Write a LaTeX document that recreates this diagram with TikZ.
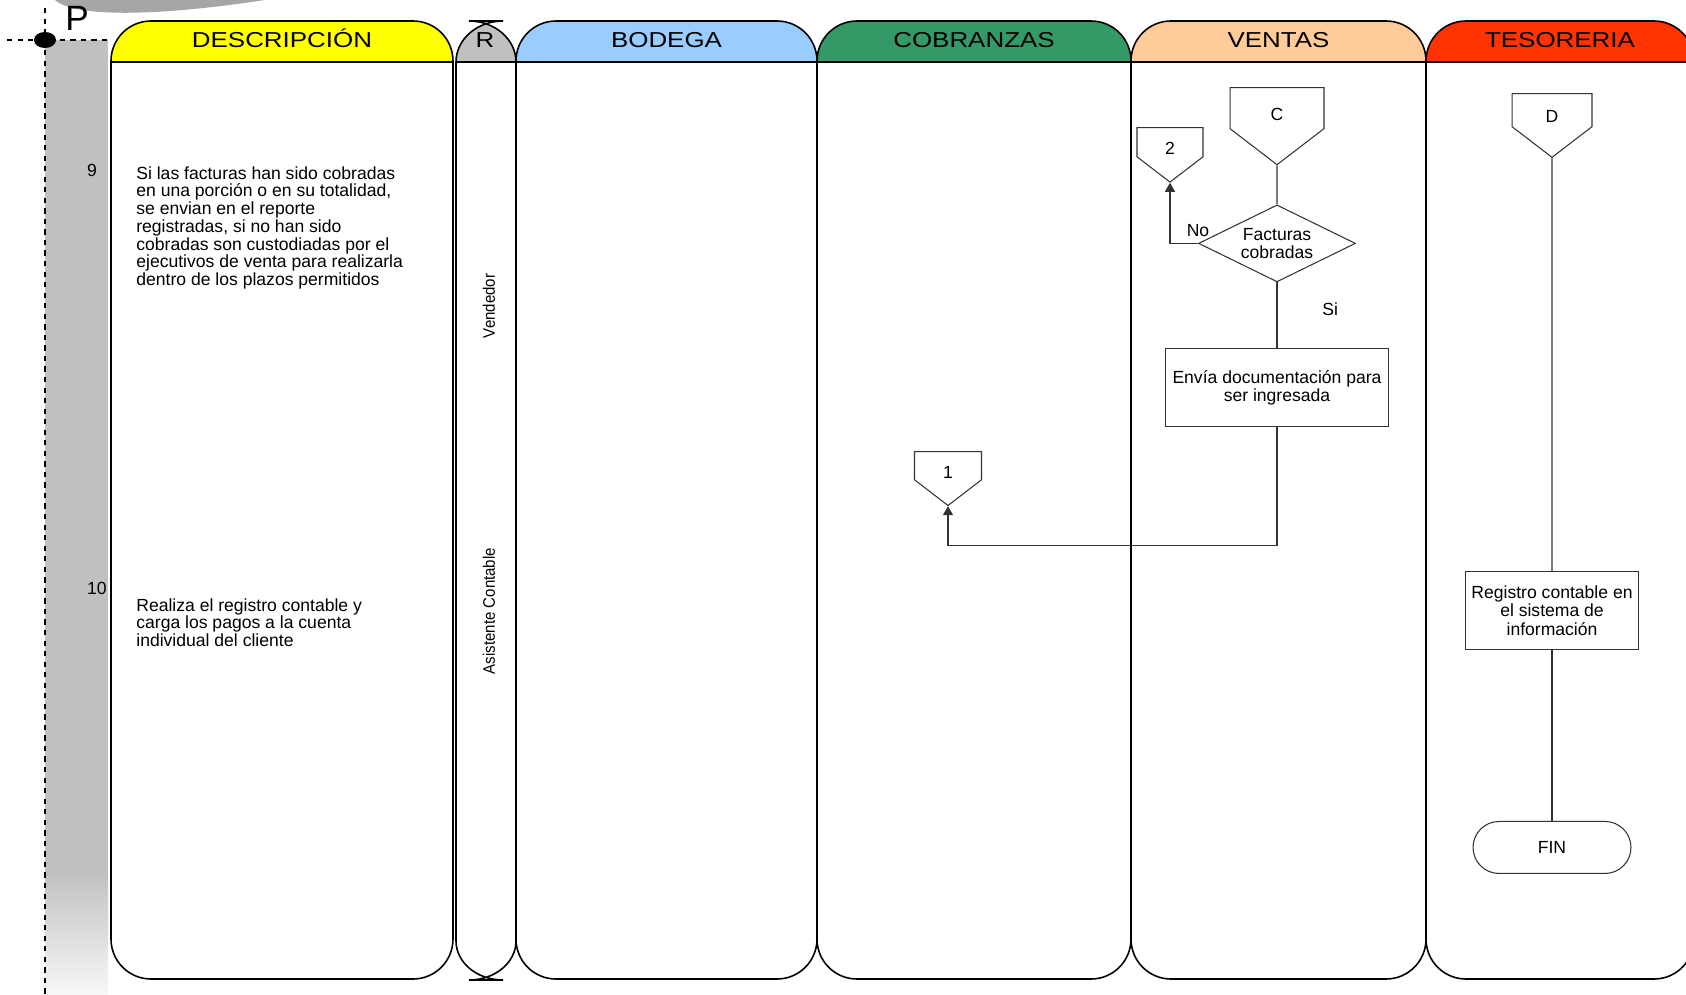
\documentclass[tikz,border=0pt]{standalone}
\usepackage{fontspec}
\setmainfont{Liberation Sans}
\newfontfamily\headfont{Liberation Sans}[FakeStretch=1.2]
\newfontfamily\respfont{Liberation Sans}[FakeStretch=0.9]
\usetikzlibrary{arrows.meta,shapes.geometric,shapes.symbols,positioning}

\definecolor{descyellow}{HTML}{FFFF00}
\definecolor{respgray}{HTML}{C0C0C0}
\definecolor{bodblue}{HTML}{99CCFF}
\definecolor{cobgreen}{HTML}{339966}
\definecolor{venorange}{HTML}{FFCC99}
\definecolor{tesred}{HTML}{FF3300}

% swim lane: left x, right x, colour, title
\newcommand{\swimlane}[4]{%
  \begin{scope}
    \clip (#1,0) rectangle (#2,62);
    \fill[#3, rounded corners=0.8cm] (#1,21) rectangle (#2,979);
  \end{scope}
  \draw[lane] (#1,21) rectangle (#2,979);
  \draw[line width=0.9pt] (#1,62) -- (#2,62);
  \node[header] at ({(#1+#2)/2},47.5) {#4};
}

\begin{document}
\begin{tikzpicture}[x=0.02cm,y=-0.02cm,
  >={Triangle[width=0.2cm,length=0.18cm]},
  lane/.style={line width=0.9pt,rounded corners=0.8cm},
  header/.style={anchor=base,inner sep=0pt,font=\headfont\fontsize{12.3}{14}\selectfont},
  desc/.style={anchor=north west,inner sep=0pt,align=left,font=\fontsize{10}{10.1}\selectfont},
  resp/.style={rotate=90,inner sep=0pt,font=\respfont\fontsize{9.5}{10}\selectfont},
  offpage/.style={shape=signal,signal to=south,signal from=nowhere,signal pointer angle=105,
    draw=black!80,line width=0.6pt,inner sep=0pt,anchor=north,text height=0.5cm,text depth=0pt,
    font=\fontsize{10}{12}\selectfont},
  decision/.style={diamond,draw=black!80,line width=0.6pt,aspect=2,inner sep=0pt,
    minimum width=3.14cm,minimum height=1.54cm,align=center,font=\fontsize{10}{10.6}\selectfont},
  process/.style={rectangle,draw=black!80,line width=0.6pt,minimum height=1.56cm,
    align=center,font=\fontsize{10}{10.6}\selectfont},
  terminal/.style={rectangle,draw=black!80,line width=0.6pt,rounded corners=0.52cm,
    minimum width=3.16cm,minimum height=1.04cm,font=\fontsize{10}{12}\selectfont},
  flow/.style={draw=black!80,line width=0.6pt}]
  \useasboundingbox (0,0) rectangle (1686,994);
  \clip (0,0) rectangle (1686,994);

  % Step column
  \fill[black!35] (55,0) .. controls (75,18) and (160,16) .. (265,0) -- cycle;
  \fill[respgray] (45,40) rectangle (108,870);
  \shade[top color=respgray,bottom color=black!3] (45,870) rectangle (108,994);
  \draw[dashed,line width=0.6pt] (45,8) -- (45,994);
  \draw[dashed,line width=0.6pt] (7,40) -- (108,40);
  \fill (45,40) ellipse[x radius=11,y radius=8];
  \node[inner sep=0pt,font=\fontsize{20}{20}\selectfont] (P) at (77,18) {P};
  \node[inner sep=0pt,font=\fontsize{10}{12}\selectfont] (step 9)  at (92,170) {9};
  \node[inner sep=0pt,font=\fontsize{10}{12}\selectfont] (step 10) at (97,588) {10};

  % Lanes
  \swimlane{111}{453}{descyellow}{DESCRIPCIÓN}
  \swimlane{516}{817}{bodblue}{BODEGA}
  \swimlane{817}{1131}{cobgreen}{COBRANZAS}
  \swimlane{1131}{1426}{venorange}{VENTAS}
  \swimlane{1426}{1694}{tesred}{TESORERIA}
  % Responsible lane (narrow)
  \begin{scope}
    \clip (440,0) rectangle (530,62);
    \fill[respgray] (456,62) .. controls (456,39.4) and (477,21) .. (503,21) -- (469,21)
      .. controls (495,21) and (516,39.4) .. (516,62) -- cycle;
  \end{scope}
  \draw[line width=0.9pt] (456,62) .. controls (456,39.4) and (477,21) .. (503,21) -- (469,21)
    .. controls (495,21) and (516,39.4) .. (516,62) -- (516,941)
    .. controls (516,962.5) and (495,980) .. (469,980) -- (503,980)
    .. controls (477,980) and (456,962.5) .. (456,941) -- cycle;
  \draw[line width=0.9pt] (456,62) -- (516,62);
  \node[header] at (485,47.5) {R};

  % Descriptions
  \node[desc] (desc 9) at (136,166) {Si las facturas han sido cobradas\\en una porción o en su totalidad,\\se envian en el reporte\\registradas, si no han sido\\cobradas son custodiadas por el\\ejecutivos de venta para realizarla\\dentro de los plazos permitidos};
  \node[desc] (desc 10) at (136,598) {Realiza el registro contable y\\carga los pagos a la cuenta\\individual del cliente};
  \node[resp] (resp 9)  at (489,306) {Vendedor};
  \node[resp] (resp 10) at (489,611) {Asistente Contable};

  % Ventas
  \node[offpage,minimum width=1.88cm,minimum height=0.92cm] (V C) at (1277,87) {C};
  \node[decision] (V dec) [below=0.78cm of V C] {Facturas\\cobradas};
  \node[process,minimum width=4.46cm] (V send) [below=1.32cm of V dec] {Envía documentación para\\ser ingresada};
  \node[offpage,minimum width=1.32cm,minimum height=0.66cm] (V two) at (1170,127) {2};
  % Cobranzas
  \node[offpage,minimum width=1.34cm,minimum height=0.64cm] (C one) at (948,451) {1};
  % Tesoreria
  \node[offpage,minimum width=1.6cm,minimum height=0.76cm] (T D) at (1552,93) {D};
  \node[process,minimum width=3.44cm] (T reg) [below=8.26cm of T D] {Registro contable en\\el sistema de\\información};
  \node[terminal] (T fin) [below=3.42cm of T reg] {FIN};

  % Connecting edges
  \path[flow]
  (V C) edge (V dec)
  (V dec) edge node[pos=0.4,anchor=west,xshift=0.78cm,font=\fontsize{10}{12}\selectfont] {Si} (V send)
  (T D) edge (T reg)
  (T reg) edge (T fin);
  \draw[flow,->] (V dec.west) node[anchor=south,font=\fontsize{10}{12}\selectfont] {No} -| (V two.south);
  \draw[flow,->] (V send.south) -- ++(0,118) -| (C one.south);
\end{tikzpicture}
\end{document}
